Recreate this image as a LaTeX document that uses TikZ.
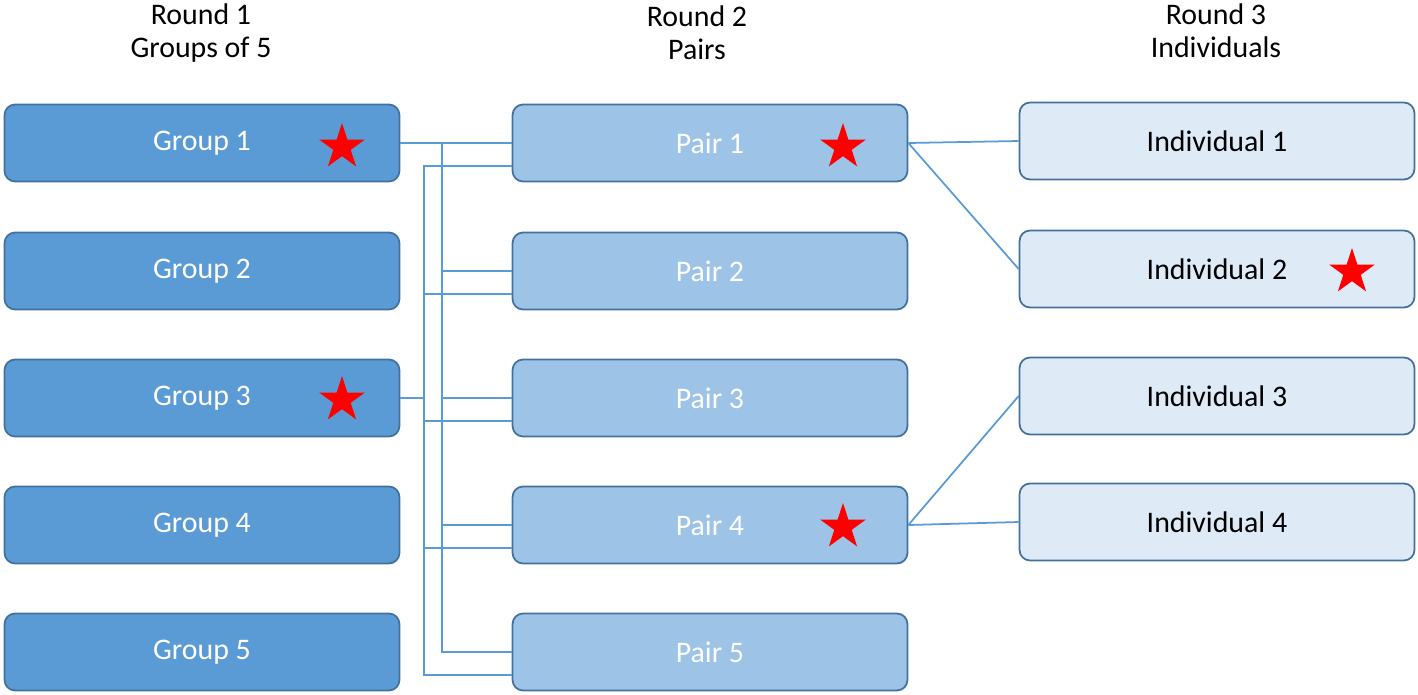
\documentclass[tikz,border=0pt]{standalone}
\usepackage{fontspec}
\setmainfont{Carlito}
\usetikzlibrary{shapes.geometric, positioning}
\definecolor{grpblue}{RGB}{91,155,213}
\definecolor{pairblue}{RGB}{157,195,230}
\definecolor{indblue}{RGB}{222,235,247}
\definecolor{edgeblue}{RGB}{65,113,156}
\definecolor{linkblue}{RGB}{91,155,213}

\begin{document}
\begin{tikzpicture}[x=0.02cm, y=-0.02cm,
  every node/.style={font=\fontsize{17}{18.7}\selectfont},
  box/.style={rectangle, rounded corners=6pt, draw=edgeblue, line width=1pt, fill=#1,
              minimum width=7.9cm, minimum height=1.54cm, text centered},
  title/.style={align=center, text=black},
  prize/.style={star, star points=5, star point ratio=2.618, fill=red, draw=none,
                minimum size=0.96cm, inner sep=0pt},
  link/.style={draw=linkblue, line width=1pt}
]
\useasboundingbox (0,0) rectangle (1418,694);

\node[title] (round1) at (201,33) {Round 1\\Groups of 5};
\node[title] (round2) at (697,33) {Round 2\\Pairs};
\node[title] (round3) at (1216,31) {Round 3\\Individuals};

\node[box=grpblue, text=white] (g1) at (202,143) {Group 1};
\node[box=grpblue, text=white] (g2) at (202,271) {Group 2};
\node[box=grpblue, text=white] (g3) at (202,398) {Group 3};
\node[box=grpblue, text=white] (g4) at (202,525) {Group 4};
\node[box=grpblue, text=white] (g5) at (202,652) {Group 5};

\node[box=pairblue, text=white] (p1) at (710,143) {Pair 1};
\node[box=pairblue, text=white] (p2) at (710,271) {Pair 2};
\node[box=pairblue, text=white] (p3) at (710,398) {Pair 3};
\node[box=pairblue, text=white] (p4) at (710,525) {Pair 4};
\node[box=pairblue, text=white] (p5) at (710,652) {Pair 5};

\node[box=indblue] (i1) at (1217,141) {Individual 1};
\node[box=indblue] (i2) at (1217,269) {Individual 2};
\node[box=indblue] (i3) at (1217,396) {Individual 3};
\node[box=indblue] (i4) at (1217,522) {Individual 4};

% winners
\node[prize] (star1) at (342,147) {};
\node[prize] (star2) at (342,400) {};
\node[prize] (star3) at (843,147) {};
\node[prize] (star4) at (843,527) {};
\node[prize] (star5) at (1352,272) {};

% group winners feed every pair
\foreach \p in {p1,p2,p3,p4,p5}{
  \draw[link] (g1.east) -| ([xshift=-1.4cm]\p.west) -- (\p.west);
  \draw[link] (g3.east) -| ([xshift=-1.76cm, yshift=-0.46cm]\p.west)
    -- ([yshift=-0.46cm]\p.west);
}

\draw[link] (p1.east) -- (i1.west);
\draw[link] (p1.east) -- (i2.west);
\draw[link] (p4.east) -- (i3.west);
\draw[link] (p4.east) -- (i4.west);
\end{tikzpicture}
\end{document}
